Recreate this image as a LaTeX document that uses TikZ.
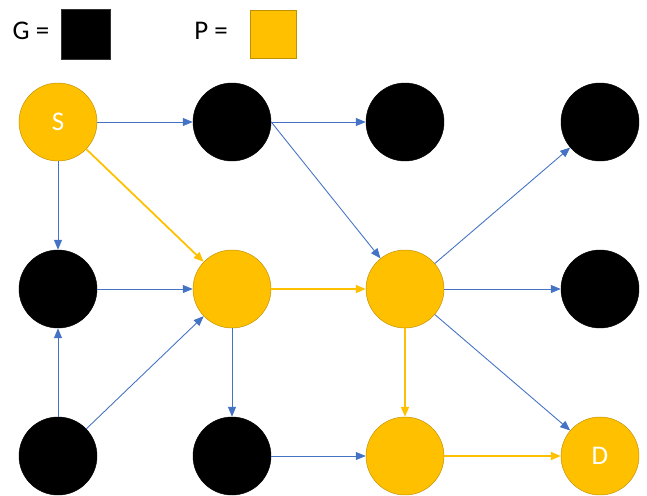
\documentclass[tikz,border=0pt]{standalone}
\usepackage{fontspec}
\setmainfont{Carlito}
\usetikzlibrary{arrows.meta}
\usetikzlibrary{positioning}

\definecolor{pyellow}{HTML}{FFC000}
\definecolor{pgold}{HTML}{BF9000}
\definecolor{eblue}{HTML}{4472C4}

\tikzset{
  gnode/.style={circle,fill=black,draw=black,minimum size=2.34cm,inner sep=0pt},
  pnode/.style={circle,fill=pyellow,draw=pgold,thin,minimum size=2.34cm,inner sep=0pt,text=white},
  gedge/.style={draw=eblue,line width=0.75pt,-{Triangle[length=0.3cm,width=0.24cm]}},
  pedge/.style={draw=pyellow,line width=1.5pt,-{Triangle[length=0.3cm,width=0.24cm]}},
  lbl/.style={font=\fontsize{23}{27}\selectfont}
}

\begin{document}
\begin{tikzpicture}[x=0.03cm,y=-0.03cm]
\useasboundingbox (0,0) rectangle (647,495);

% legend
\node[lbl] (gtext) at (31,31) {G =};
\draw[fill=black,draw=black!80] (61,9) rectangle (110,59);
\node[lbl] (ptext) at (211,31) {P =};
\draw[fill=pyellow,draw=pgold] (250,10) rectangle (296,58);

% nodes
\node[pnode,lbl] (s) at (58,122) {S};
\node[gnode] (g12) at (232,122) {};
\node[gnode] (g13) at (405,122) {};
\node[gnode] (g14) at (600,122) {};
\node[gnode] (g21) at (58,289) {};
\node[pnode] (p22) at (232,289) {};
\node[pnode] (p23) at (405,289) {};
\node[gnode] (g24) at (600,289) {};
\node[gnode] (g31) at (58,456) {};
\node[gnode] (g32) at (232,456) {};
\node[pnode] (p33) at (405,456) {};
\node[pnode,lbl] (d) at (600,456) {D};

% edges
\draw[gedge] (s) -- (g12);
\draw[gedge] (g12) -- (g13);
\draw[gedge] (g12.east) -- (p23);
\draw[gedge] (s) -- (g21);
\draw[gedge] (g21) -- (p22);
\draw[gedge] (g31) -- (g21);
\draw[gedge] (g31) -- (p22);
\draw[gedge] (p22) -- (g32);
\draw[gedge] (g32) -- (p33);
\draw[gedge] (p23) -- (g14);
\draw[gedge] (p23) -- (g24);
\draw[gedge] (p23) -- (d);

% path
\draw[pedge] (s) -- (p22);
\draw[pedge] (p22) -- (p23);
\draw[pedge] (p23) -- (p33);
\draw[pedge] (p33) -- (d);

\end{tikzpicture}
\end{document}
